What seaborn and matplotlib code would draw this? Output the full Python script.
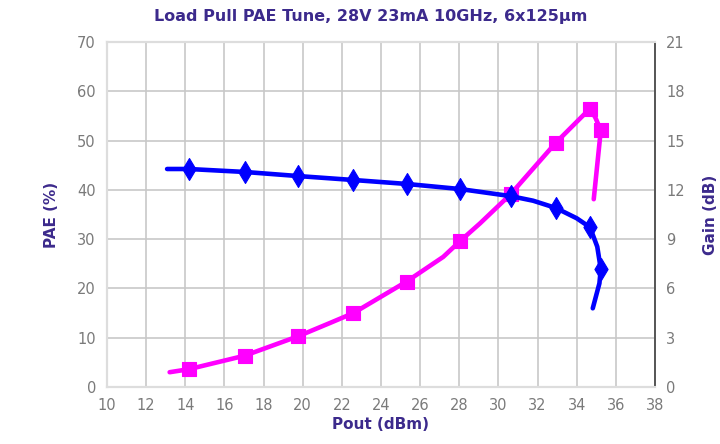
import matplotlib
matplotlib.use("Agg")
import matplotlib.pyplot as plt
import seaborn as sns
import pandas as pd

# PAE (%) smooth trace
pae_line_x = [13.2, 14.17, 17.03, 19.77, 21.4, 22.59, 25.31, 27.18, 28.04, 29.06, 30.62, 32.93, 34.68, 34.96, 35.23, 34.87]
pae_line_y = [3.0, 3.6, 6.35, 10.3, 13.0, 15.0, 21.4, 26.4, 29.6, 33.2, 39.1, 49.55, 56.5, 54.6, 52.1, 38.1]
# PAE markers
pae_mark_x = [14.17, 17.03, 19.77, 22.59, 25.31, 28.04, 30.62, 32.93, 34.68, 35.23]
pae_mark_y = [3.6, 6.35, 10.3, 15.0, 21.4, 29.6, 39.1, 49.55, 56.5, 52.1]

# Gain (dB) smooth trace
gain_line_x = [13.07, 14.17, 17.03, 19.77, 22.59, 25.31, 28.04, 30.62, 31.77, 32.93, 34.0, 34.68, 35.05, 35.23, 35.16, 34.82]
gain_line_y = [13.27, 13.27, 13.09, 12.84, 12.6, 12.36, 12.05, 11.62, 11.34, 10.9, 10.27, 9.72, 8.54, 7.18, 6.31, 4.79]
# Gain markers
gain_mark_x = [14.17, 17.03, 19.77, 22.59, 25.31, 28.04, 30.62, 32.93, 34.68, 35.23]
gain_mark_y = [13.27, 13.09, 12.84, 12.6, 12.36, 12.05, 11.62, 10.9, 9.72, 7.18]

x_ticks = list(range(10, 39, 2))
pae_ticks = list(range(0, 71, 10))
gain_ticks = list(range(0, 22, 3))

title = "Load Pull PAE Tune, 28V 23mA 10GHz, 6x125µm"

sns.set_style("white")
plt.rcParams['font.family'] = ['DejaVu Sans']

purple = "#3C2A8C"
tick_col = "#7A7A7A"
grid_col = "#C8C8C8"
magenta = "#FF00FF"
blue = "#0000FF"

fig = plt.figure(figsize=(7.2, 4.44), dpi=100)
ax = fig.add_axes([107/720, 1-387/444, (655-107)/720, (387-42)/444])
ax2 = ax.twinx()

df_pl = pd.DataFrame({"x": pae_line_x, "y": pae_line_y})
df_pm = pd.DataFrame({"x": pae_mark_x, "y": pae_mark_y})
df_gl = pd.DataFrame({"x": gain_line_x, "y": gain_line_y})
df_gm = pd.DataFrame({"x": gain_mark_x, "y": gain_mark_y})

sns.lineplot(data=df_pl, x="x", y="y", ax=ax, sort=False, estimator=None,
             color=magenta, linewidth=3.3, zorder=3)
sns.scatterplot(data=df_pm, x="x", y="y", ax=ax, marker="s", s=95,
                color=magenta, edgecolor=magenta, linewidth=0.8, zorder=4)
sns.lineplot(data=df_gl, x="x", y="y", ax=ax2, sort=False, estimator=None,
             color=blue, linewidth=3.3, zorder=3)
sns.scatterplot(data=df_gm, x="x", y="y", ax=ax2, marker="d", s=125,
                color=blue, edgecolor=blue, linewidth=0.8, zorder=4)

ax.set_xlim(10, 38)
ax.set_ylim(0, 70)
ax2.set_ylim(0, 21)
ax.set_xticks(x_ticks)
ax.set_yticks(pae_ticks)
ax2.set_yticks(gain_ticks)
ax.grid(True, color=grid_col, linewidth=1.2)
ax.set_axisbelow(True)
ax2.grid(False)

for a in (ax, ax2):
    a.tick_params(axis="both", length=0, labelsize=10.5, colors=tick_col, pad=8)
    for s in ("left", "top", "bottom"):
        a.spines[s].set_color("#DDDDDD")
        a.spines[s].set_linewidth(1.5)
    a.spines["right"].set_color("#555555")
    a.spines["right"].set_linewidth(1.2)

ax.set_xlabel("Pout (dBm)", color=purple, fontsize=11, fontweight="bold", labelpad=3)
ax.set_ylabel("PAE (%)", color=purple, fontsize=11, fontweight="bold", labelpad=13)
ax2.set_ylabel("Gain (dB)", color=purple, fontsize=11, fontweight="bold", labelpad=13)
fig.text(371/720, 1-17/444, title, ha="center", va="center", color=purple,
         fontsize=11.5, fontweight="bold")

fig.savefig("out.png", dpi=100)
